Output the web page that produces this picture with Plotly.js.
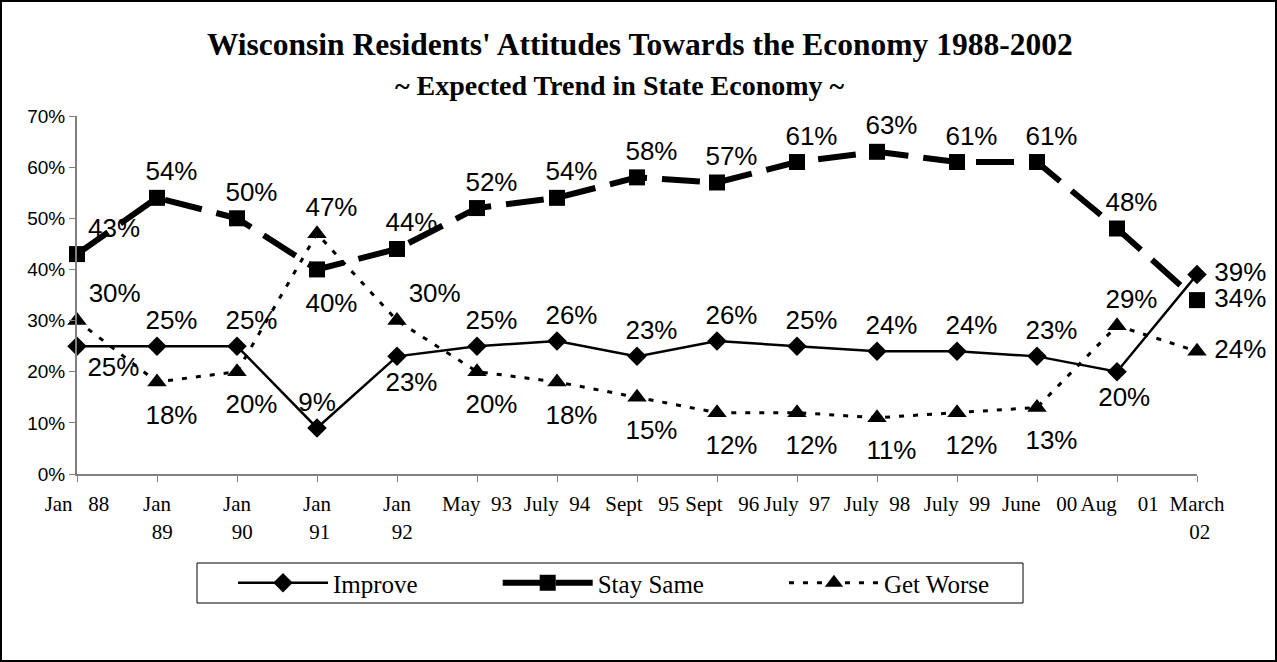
<!DOCTYPE html>
<html>
<head>
<meta charset="utf-8">
<script src="https://cdn.plot.ly/plotly-3.0.1.min.js"></script>
<style>
  html, body { margin: 0; padding: 0; background: #fff; }
  #chart { width: 1277px; height: 662px; }
  #frame { position: absolute; left: 0; top: 0; width: 1277px; height: 662px; box-sizing: border-box; border: 2px solid #000; pointer-events: none; }
</style>
</head>
<body>
<div id="chart"></div>
<div id="frame"></div>
<script>
// ---- Data ----
const categories = ["Jan 88","Jan 89","Jan 90","Jan 91","Jan 92","May 93","July 94","Sept 95","Sept 96","July 97","July 98","July 99","June 00","Aug 01","March 02"];
const tickLabels = ["Jan\u00a0\u00a0\u00a088","Jan<br>\u00a0\u00a089","Jan<br>\u00a0\u00a090","Jan<br>\u00a091","Jan<br>\u00a0\u00a092","May\u00a0\u00a093","July\u00a0\u00a094","\u00a0\u00a0Sept\u00a0\u00a0\u00a095","\u00a0\u00a0Sept\u00a0\u00a0\u00a096","July\u00a0\u00a097","July\u00a0\u00a098","July\u00a0\u00a099","\u00a0June\u00a0\u00a0\u00a000","\u00a0Aug\u00a0\u00a0\u00a0\u00a001","March<br>\u00a002"];
const improve   = [25,25,25,9,23,25,26,23,26,25,24,24,23,20,39];
const staySame  = [43,54,50,40,44,52,54,58,57,61,63,61,61,48,34];
const getWorse  = [30,18,20,47,30,20,18,15,12,12,11,12,13,29,24];
const seriesNames = ["Improve","Stay Same","Get Worse"];

// label placement (style only)
const improvePos = ['bottom right','top center','top center','top center','bottom center','top center','top center','top center','top center','top center','top center','top center','top center','bottom center','middle right'];
const samePos = ['top right','top center','top center','bottom center','top center','top center','top center','top center','top center','top center','top center','top center','top center','top center','middle right'];
const worsePos = ['top right','bottom center','bottom center','top center','top right','bottom center','bottom center','bottom center','bottom center','bottom center','bottom center','bottom center','bottom center','top center','middle right'];
const improveShift = [0,4,4,0,4,4,4,4,4,4,4,4,4,2,0];

const pad = n => '\u00a0'.repeat(n);
const labels = (vals, pos, shift) => vals.map((v, i) => {
  const s = shift ? shift[i] : (pos[i].indexOf('center') >= 0 ? 4 : 0);
  return pad(s) + v + '%';
});
// invisible spacer size per label: pushes some labels further from the point
const spacer = (pos, base, bottom) => pos.map(p => p === 'bottom center' ? bottom : (p === 'middle right' ? 26 : base));
const labelFont = {family: 'Arial, "Liberation Sans", sans-serif', size: 26, color: '#000'};
const serif = '"Liberation Serif", "Times New Roman", serif';

function series(name, vals, pos, shift, bottomGap, line, marker) {
  return [
    {
      x: categories, y: vals, name: name, type: 'scatter', mode: 'lines+markers',
      line: line, marker: marker, cliponaxis: false
    },
    {
      x: categories, y: vals, type: 'scatter', mode: 'markers+text', showlegend: false, hoverinfo: 'skip',
      marker: {size: spacer(pos, marker.size, bottomGap), color: 'rgba(0,0,0,0)', opacity: 0, line: {width: 0, color: 'rgba(0,0,0,0)'}},
      text: labels(vals, pos, shift), textposition: pos, textfont: labelFont, cliponaxis: false
    }
  ];
}

const traces = [].concat(
  series(seriesNames[0] + pad(12), improve, improvePos, improveShift, 22,
    {color: '#000', width: 2.5}, {symbol: 'diamond', size: 15, color: '#000'}),
  series(seriesNames[1] + pad(12), staySame, samePos, null, 36,
    {color: '#000', width: 6, dash: '38px,15px'}, {symbol: 'square', size: 16, color: '#000'}),
  series(seriesNames[2], getWorse, worsePos, null, 34,
    {color: '#000', width: 3, dash: '5px,9px'}, {symbol: 'triangle-up', size: 17, color: '#000'})
);

const L = 77, T = 116, W = 1120, H = 358;
const px = x => (x - L) / W, py = y => (T + H - y) / H;

const layout = {
  width: 1277, height: 662,
  margin: {l: L, r: 1277 - L - W, t: T, b: 662 - T - H},
  paper_bgcolor: '#fff', plot_bgcolor: '#fff',
  showlegend: true,
  title: {
    text: "Wisconsin Residents' Attitudes Towards the Economy 1988-2002",
    font: {family: serif, size: 31.5, color: '#000', weight: 'bold'},
    x: 0.501, xanchor: 'center', y: 0.934, yanchor: 'middle', yref: 'container'
  },
  annotations: [{
    text: '~ Expected Trend in State Economy ~',
    xref: 'paper', yref: 'paper', x: px(620), y: py(86), xanchor: 'center', yanchor: 'middle', showarrow: false,
    font: {family: serif, size: 28, color: '#000', weight: 'bold'}
  }],
  shapes: [{
    type: 'rect', xref: 'paper', yref: 'paper',
    x0: px(197), x1: px(1023), y0: py(603), y1: py(563),
    line: {color: '#000', width: 1}, fillcolor: 'rgba(0,0,0,0)'
  }],
  xaxis: {
    type: 'category', range: [0, 14],
    tickmode: 'array', tickvals: categories, ticktext: tickLabels,
    showgrid: false, zeroline: false,
    showline: true, linecolor: '#808080', linewidth: 2,
    ticks: 'outside', ticklen: 6, tickcolor: '#808080', tickwidth: 1,
    tickangle: 0, ticklabelstandoff: 4,
    tickfont: {family: serif, size: 21, color: '#000'}
  },
  yaxis: {
    range: [0, 70], dtick: 10, tick0: 0, ticksuffix: '%',
    showgrid: false, zeroline: false,
    showline: true, linecolor: '#808080', linewidth: 2,
    ticks: 'outside', ticklen: 6, tickcolor: '#808080', tickwidth: 1,
    tickfont: {family: 'Arial, "Liberation Sans", sans-serif', size: 19, color: '#000'}
  },
  legend: {
    orientation: 'h', x: px(233), xanchor: 'left', y: py(560), yanchor: 'top',
    borderwidth: 0, bgcolor: 'rgba(0,0,0,0)',
    font: {family: serif, size: 25, color: '#000'},
    itemwidth: 90
  }
};

Plotly.newPlot('chart', traces, layout, {displayModeBar: false, staticPlot: true});
</script>
</body>
</html>
